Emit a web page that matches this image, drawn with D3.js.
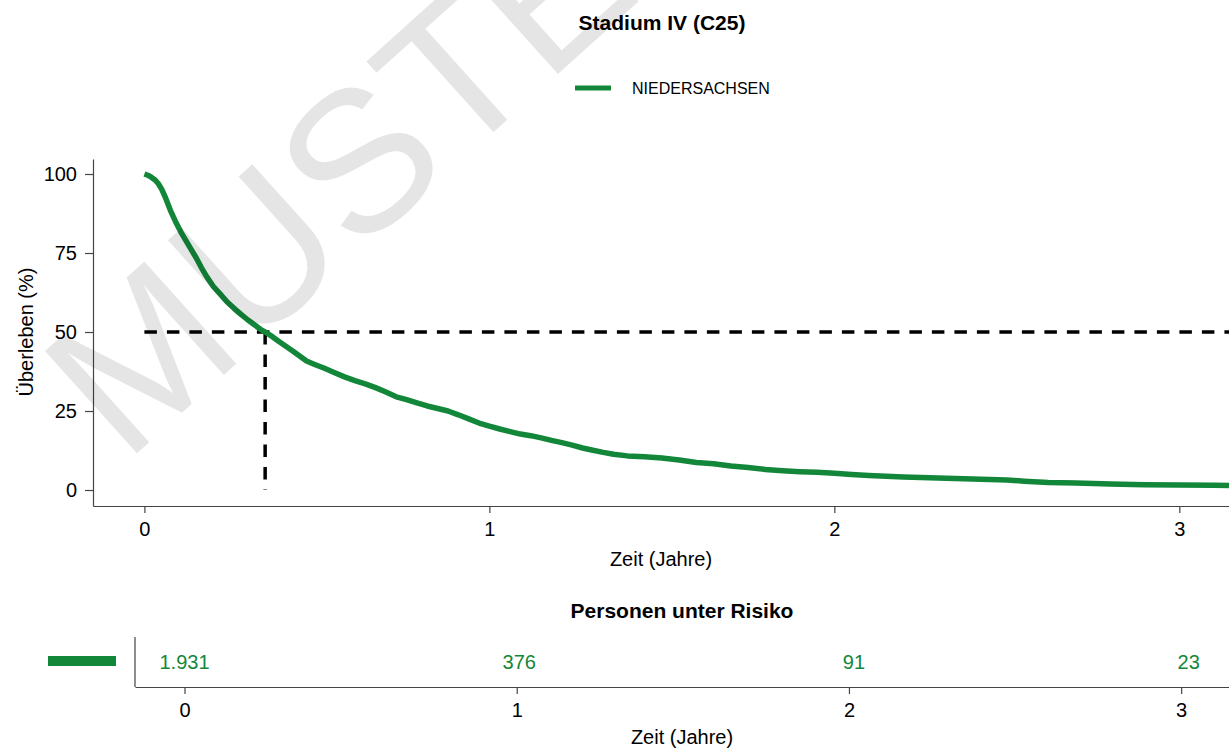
<!DOCTYPE html>
<html>
<head>
<meta charset="utf-8">
<script src="https://cdn.jsdelivr.net/npm/d3@7"></script>
<style>
  html, body { margin: 0; padding: 0; background: #fff; }
  svg { display: block; font-family: "Liberation Sans", Arial, sans-serif; }
</style>
</head>
<body>
<svg id="chart" width="1229" height="750"></svg>
<script>
// ---- data ----
const chartTitle = "Stadium IV (C25)";
const seriesName = "NIEDERSACHSEN";
const timeYears = [0, 0.01, 0.02, 0.03, 0.04, 0.05, 0.06, 0.075, 0.09, 0.105, 0.12, 0.135, 0.15, 0.165, 0.18, 0.2, 0.22, 0.24, 0.26, 0.28, 0.3, 0.32, 0.34, 0.35, 0.37, 0.39, 0.41, 0.43, 0.45, 0.47, 0.49, 0.52, 0.55, 0.58, 0.61, 0.64, 0.67, 0.7, 0.73, 0.76, 0.79, 0.82, 0.85, 0.88, 0.91, 0.94, 0.97, 1.0, 1.03, 1.06, 1.09, 1.12, 1.15, 1.18, 1.21, 1.24, 1.27, 1.3, 1.33, 1.36, 1.4, 1.45, 1.5, 1.55, 1.6, 1.65, 1.7, 1.75, 1.8, 1.85, 1.9, 1.95, 2.0, 2.05, 2.1, 2.2, 2.3, 2.4, 2.5, 2.55, 2.62, 2.7, 2.8, 2.9, 3.0, 3.1, 3.144];
const survivalPct = [100, 99.6, 99.0, 98.2, 97.0, 95.2, 92.8, 88.6, 85.0, 81.8, 79.0, 76.2, 73.5, 70.4, 67.6, 64.4, 62.0, 59.5, 57.5, 55.6, 53.8, 52.2, 50.6, 50.0, 48.6, 47.0, 45.5, 44.0, 42.4, 40.8, 39.9, 38.6, 37.2, 35.8, 34.6, 33.6, 32.4, 31.0, 29.5, 28.6, 27.6, 26.6, 25.8, 25.0, 23.8, 22.5, 21.2, 20.2, 19.3, 18.5, 17.7, 17.2, 16.5, 15.7, 15.0, 14.2, 13.3, 12.6, 11.9, 11.3, 10.8, 10.5, 10.1, 9.5, 8.7, 8.3, 7.6, 7.1, 6.5, 6.1, 5.8, 5.6, 5.3, 4.9, 4.6, 4.1, 3.8, 3.5, 3.2, 2.8, 2.4, 2.2, 1.9, 1.7, 1.6, 1.5, 1.4];
const medianTime = 0.35;
const medianLevel = 50;
const xTickValues = [0, 1, 2, 3];
const yTickValues = [0, 25, 50, 75, 100];
const riskTimes = [0, 1, 2, 3];
const riskCounts = ["1.931", "376", "91", "23"];
const xDomain = [-0.149, 3.144];
const yDomain = [-5.06, 104.75];

// ---- style ----
const green = "#12873a";
const axisColor = "#444";
const font = "20px";

const svg = d3.select("#chart");

// scales
const x = d3.scaleLinear().domain(xDomain).range([93, 1229]);
const y = d3.scaleLinear().domain(yDomain).range([506, 159]);
const xr = d3.scaleLinear().domain(xDomain).range([135, 1229]);

// title
svg.append("text").attr("x", 662).attr("y", 29.5).attr("text-anchor", "middle")
  .attr("font-size", "21px").attr("font-weight", "bold").attr("fill", "#000").text(chartTitle);

// legend
svg.append("line").attr("x1", 575).attr("x2", 611).attr("y1", 88).attr("y2", 88)
  .attr("stroke", green).attr("stroke-width", 5);
svg.append("text").attr("x", 632).attr("y", 93.7).attr("font-size", "16px").attr("fill", "#000").text(seriesName);

// main axes
const gx = svg.append("g").attr("transform", "translate(0,506)")
  .call(d3.axisBottom(x).tickValues(xTickValues).tickSize(7).tickSizeOuter(0).tickPadding(9).tickFormat(d3.format("d")));
const gy = svg.append("g").attr("transform", "translate(93,0)")
  .call(d3.axisLeft(y).tickValues(yTickValues).tickSize(8).tickSizeOuter(0).tickPadding(8).tickFormat(d3.format("d")));
[gx, gy].forEach(g => {
  g.select(".domain").attr("stroke", axisColor).attr("stroke-width", 1.2);
  g.selectAll(".tick line").attr("stroke", axisColor).attr("stroke-width", 1.2);
  g.selectAll(".tick text").attr("fill", "#000").attr("font-size", font).attr("font-family", "Liberation Sans, Arial, sans-serif");
});

svg.append("text").attr("x", 661).attr("y", 565.5).attr("text-anchor", "middle")
  .attr("font-size", "20px").attr("fill", "#000").text("Zeit (Jahre)");
svg.append("text").attr("transform", "rotate(-90)").attr("x", -332).attr("y", 33)
  .attr("text-anchor", "middle").attr("font-size", "20px").attr("fill", "#000").text("Überleben (%)");

// median dashed lines
svg.append("line").attr("x1", x(0)).attr("x2", x(xDomain[1])).attr("y1", y(medianLevel)).attr("y2", y(medianLevel))
  .attr("stroke", "#000").attr("stroke-width", 3.5).attr("stroke-dasharray", "12.5,10");
svg.append("line").attr("x1", x(medianTime)).attr("x2", x(medianTime)).attr("y1", y(medianLevel)).attr("y2", y(0))
  .attr("stroke", "#000").attr("stroke-width", 3.5).attr("stroke-dasharray", "12.5,10");

// survival curve
const line = d3.line().x((d, i) => x(timeYears[i])).y(d => y(d)).curve(d3.curveLinear);
svg.append("path").datum(survivalPct).attr("d", line)
  .attr("fill", "none").attr("stroke", green).attr("stroke-width", 5.5).attr("stroke-linejoin", "round");

// risk table
svg.append("text").attr("x", 682).attr("y", 617.5).attr("text-anchor", "middle")
  .attr("font-size", "21px").attr("font-weight", "bold").attr("fill", "#000").text("Personen unter Risiko");
const gr = svg.append("g").attr("transform", "translate(0,687)")
  .call(d3.axisBottom(xr).tickValues(xTickValues).tickSize(7).tickSizeOuter(0).tickPadding(9).tickFormat(d3.format("d")));
gr.select(".domain").attr("stroke", axisColor).attr("stroke-width", 1.2);
gr.selectAll(".tick line").attr("stroke", axisColor).attr("stroke-width", 1.2);
gr.selectAll(".tick text").attr("fill", "#000").attr("font-size", font).attr("font-family", "Liberation Sans, Arial, sans-serif");
svg.append("line").attr("x1", 135).attr("x2", 135).attr("y1", 637).attr("y2", 687)
  .attr("stroke", axisColor).attr("stroke-width", 1.2);
svg.append("rect").attr("x", 48).attr("y", 656).attr("width", 68).attr("height", 10).attr("fill", green);
svg.selectAll("text.risk").data(riskCounts).enter().append("text").attr("class", "risk")
  .attr("x", (d, i) => xr(riskTimes[i])).attr("y", 669).attr("text-anchor", "middle")
  .attr("dx", (d, i) => i * 2.5)
  .attr("font-size", "20px").attr("fill", green).text(d => d);
svg.append("text").attr("x", 682).attr("y", 744).attr("text-anchor", "middle")
  .attr("font-size", "20px").attr("fill", "#000").text("Zeit (Jahre)");

// watermark overlay
svg.append("text").attr("transform", "translate(392,130) rotate(-42)")
  .attr("text-anchor", "middle").attr("dominant-baseline", "central")
  .attr("font-size", "200px").attr("fill", "#000").attr("fill-opacity", 0.1)
  .attr("pointer-events", "none").text("MUSTER");
</script>
</body>
</html>
